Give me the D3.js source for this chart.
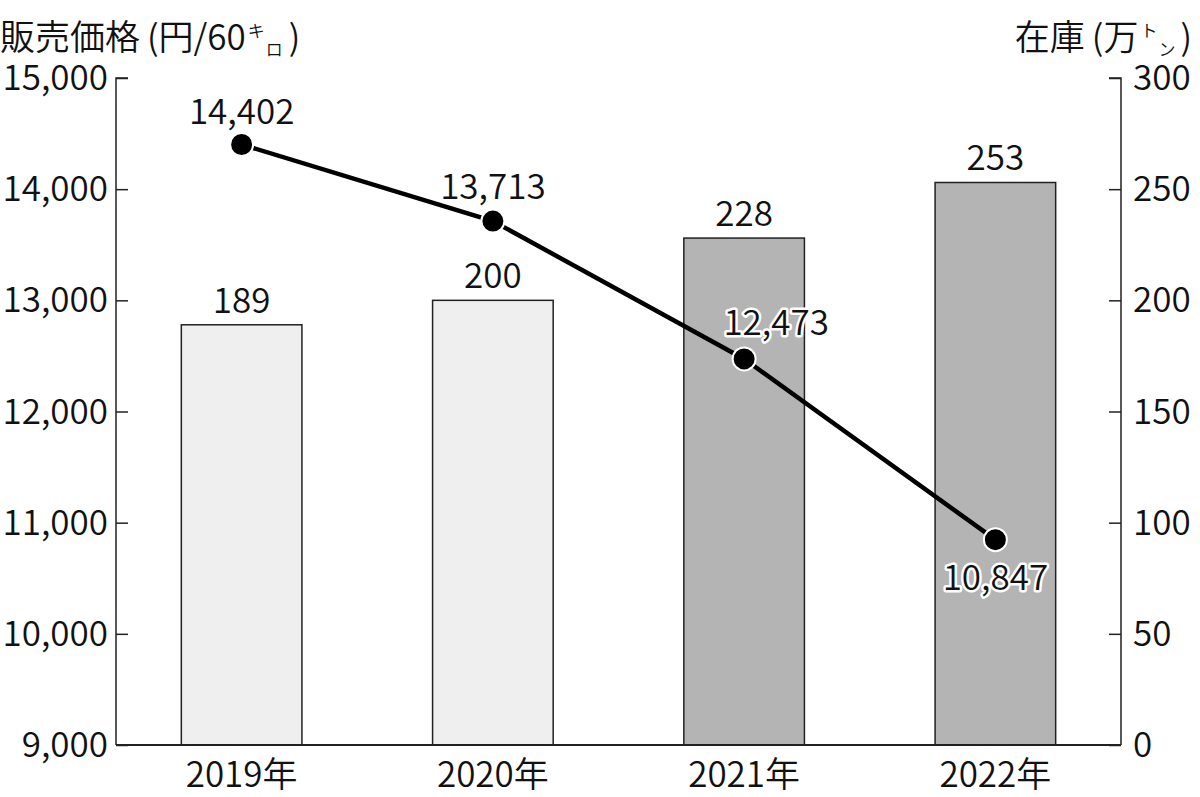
<!DOCTYPE html>
<html><head><meta charset="utf-8">
<script src="https://cdn.jsdelivr.net/npm/d3@7"></script>
<style>
html,body{margin:0;padding:0;background:#fff;}
svg text{font-family:"Noto Sans CJK JP","Noto Sans",sans-serif;fill:#111;font-weight:350;}
</style></head>
<body>
<svg id="c" width="1200" height="797"></svg>
<script>
const categories = ["2019年","2020年","2021年","2022年"];
const stock = [189, 200, 228, 253];
const price = [14402, 13713, 12473, 10847];
const leftTicks = [9000,10000,11000,12000,13000,14000,15000];
const rightTicks = [0,50,100,150,200,250,300];
const barColors = ["#eeefee","#eeefee","#b3b4b3","#b3b4b3"];

const svg = d3.select("#c");
const L = 116, R = 1121, T = 78, B = 745;
const fs = 35;
const x = d3.scaleBand().domain(categories).range([L, R]).paddingInner(0.52).paddingOuter(0.26);
const yL = d3.scaleLinear().domain([9000,15000]).range([B,T]);
const yR = d3.scaleLinear().domain([0,300]).range([B,T]);
const fmt = d3.format(",");

// bars
svg.selectAll("rect.bar").data(stock).enter().append("rect")
  .attr("x",(d,i)=>x(categories[i])).attr("width",x.bandwidth())
  .attr("y",d=>yR(d)).attr("height",d=>B-yR(d))
  .attr("fill",(d,i)=>barColors[i]).attr("stroke","#222").attr("stroke-width",1.5);
svg.selectAll("text.bl").data(stock).enter().append("text")
  .attr("x",(d,i)=>x(categories[i])+x.bandwidth()/2).attr("y",d=>yR(d)-12)
  .attr("text-anchor","middle").attr("font-size",fs).text(d=>d);

// axes
const axL = svg.append("g").attr("transform",`translate(${L},0)`)
  .call(d3.axisRight(yL).tickValues(leftTicks).tickSize(12).tickFormat(""));
const axR = svg.append("g").attr("transform",`translate(${R},0)`)
  .call(d3.axisLeft(yR).tickValues(rightTicks).tickSize(12).tickFormat(""));
[axL,axR].forEach(a=>{a.selectAll("path,line").attr("stroke","#222").attr("stroke-width",1.5);});
axL.select("path.domain").attr("d",`M12,${T}H0V${B}`);
axR.select("path.domain").attr("d",`M-12,${T}H0V${B}`);
svg.append("line").attr("x1",L).attr("x2",R).attr("y1",B).attr("y2",B).attr("stroke","#222").attr("stroke-width",2);

svg.selectAll("text.lt").data(leftTicks).enter().append("text")
  .attr("x",108).attr("y",d=>yL(d)+12).attr("text-anchor","end").attr("font-size",fs).text(d=>fmt(d));
svg.selectAll("text.rt").data(rightTicks).enter().append("text")
  .attr("x",1133).attr("y",d=>yR(d)+12).attr("text-anchor","start").attr("font-size",fs).text(d=>d);

svg.selectAll("text.xl").data(categories).enter().append("text")
  .attr("x",d=>x(d)+x.bandwidth()/2).attr("y",787).attr("text-anchor","middle").attr("font-size",fs).text(d=>d);

// line
const cx = (i)=>x(categories[i])+x.bandwidth()/2;
const line = d3.line().x((d,i)=>cx(i)).y(d=>yL(d));
svg.append("path").datum(price).attr("d",line).attr("fill","none").attr("stroke","#000").attr("stroke-width",4.5);
svg.selectAll("circle.pt").data(price).enter().append("circle")
  .attr("cx",(d,i)=>cx(i)).attr("cy",d=>yL(d)).attr("r",11.5)
  .attr("fill","#000").attr("stroke","#fff").attr("stroke-width",2);
const offs = [-20,-22,-24,50];
const dxs = [0,0,32,0];
svg.selectAll("text.pl").data(price).enter().append("text")
  .attr("x",(d,i)=>cx(i)+dxs[i]).attr("y",(d,i)=>yL(d)+offs[i])
  .attr("text-anchor","middle").attr("font-size",fs)
  .attr("stroke",(d,i)=>i>=2?"#fff":"none").attr("stroke-width",5)
  .attr("paint-order","stroke").attr("stroke-linejoin","round")
  .text(d=>fmt(d));

// titles
const t1 = svg.append("text").attr("x",0).attr("y",50).attr("font-size",fs);
t1.append("tspan").text("販売価格");
t1.append("tspan").attr("dx",7).text("(円/60");
t1.append("tspan").attr("font-size",17).attr("dx",2).attr("dy",-13).text("キ");
t1.append("tspan").attr("font-size",17).attr("dx",1).attr("dy",19).text("ロ");
t1.append("tspan").attr("dx",6).attr("dy",-6).text(")");
const t2 = svg.append("text").attr("x",1192).attr("y",50).attr("font-size",fs).attr("text-anchor","end");
t2.append("tspan").text("在庫");
t2.append("tspan").attr("dx",7).text("(万");
t2.append("tspan").attr("font-size",17).attr("dx",2).attr("dy",-13).text("ト");
t2.append("tspan").attr("font-size",17).attr("dx",1).attr("dy",19).text("ン");
t2.append("tspan").attr("dx",5).attr("dy",-6).text(")");
</script>
</body></html>
